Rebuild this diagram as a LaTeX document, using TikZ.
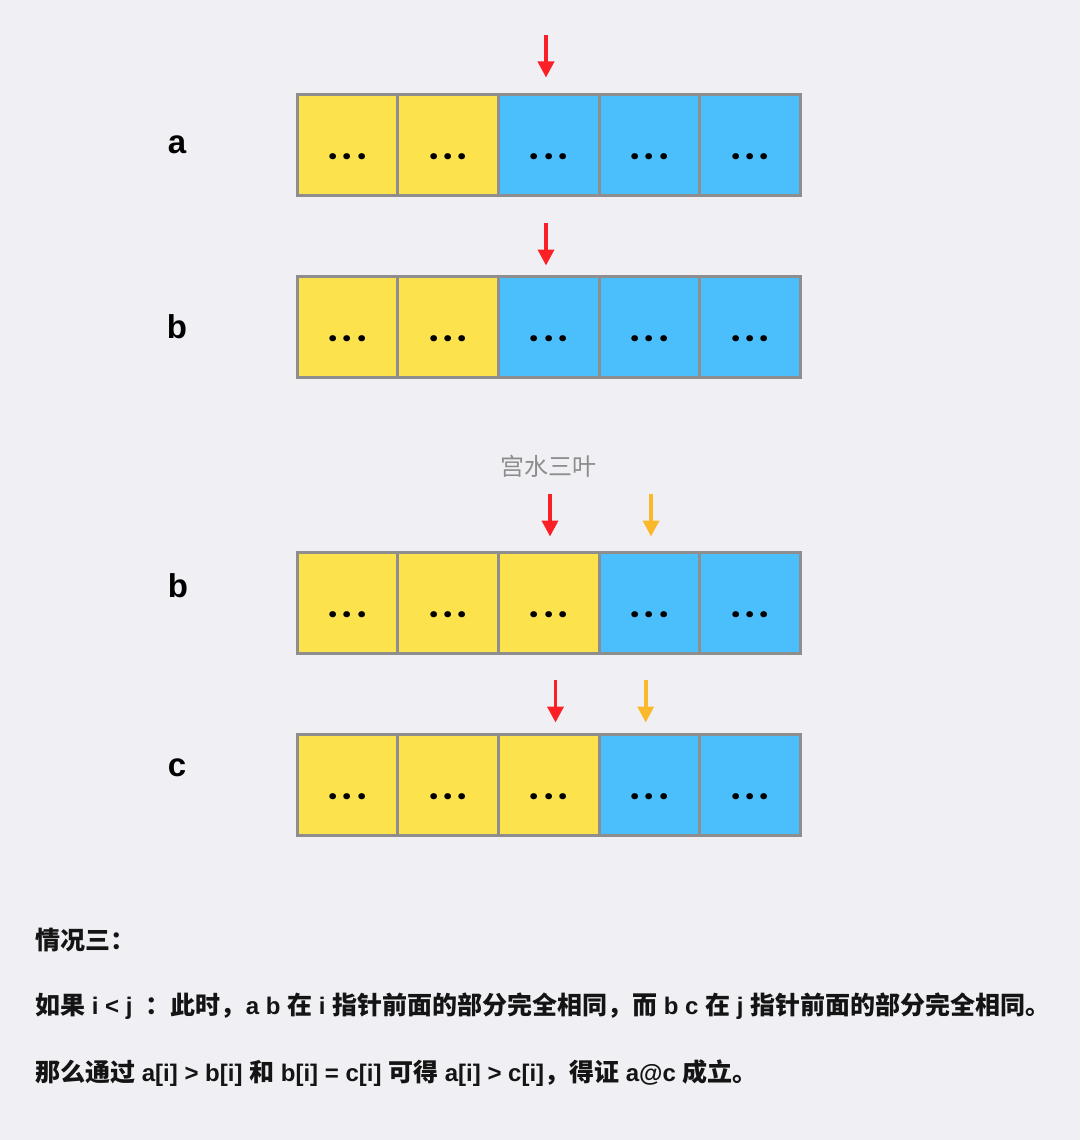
\documentclass[tikz,border=0pt]{standalone}
\usepackage{fontspec}
\setmainfont{Liberation Sans}
\newfontfamily\cjk{Noto Sans CJK SC}
\newfontfamily\latb{Liberation Sans Bold}
\newfontfamily\popf{Poppins}
\newcommand\LT[1]{{\latb\fontsize{24}{24}\selectfont #1}}
\usetikzlibrary{arrows.meta,calc}
\definecolor{bgc}{RGB}{239,239,244}
\definecolor{cellyellow}{RGB}{252,226,77}
\definecolor{cellblue}{RGB}{74,191,252}
\definecolor{cellgray}{RGB}{142,142,142}
\definecolor{ptrred}{RGB}{250,32,38}
\definecolor{ptrorange}{RGB}{251,184,42}
\definecolor{wmgray}{RGB}{140,140,140}
\definecolor{txt}{RGB}{20,20,20}
\begin{document}
\begin{tikzpicture}[x=1pt,y=-1pt,
  cell/.style={draw=cellgray, line width=3pt, minimum width=100.7pt, minimum height=100.7pt, inner sep=0pt, outer sep=0pt, anchor=north west},
  dotstext/.style={font=\popf\bfseries\fontsize{33}{33}\selectfont, inner sep=0pt, anchor=base, text=black},
  rowlabel/.style={font=\fontsize{33}{33}\selectfont\bfseries, inner sep=0pt, text=black},
  ptr/.style={line width=3.6pt, -{Triangle[width=16pt,length=16pt]}},
  note/.style={font=\cjk\bfseries\fontsize{25}{25}\selectfont, inner sep=0pt, anchor=base west, text=txt},
  wm/.style={font=\cjk\fontsize{24}{24}\selectfont, inner sep=0pt, text=wmgray}]
\fill[bgc] (0,0) rectangle (1080,1140);
\useasboundingbox (0,0) rectangle (1080,1140);

% rows of cells
\foreach \r/\t/\ny in {a/94.5/2, b/276.5/2, d/552.7/3, e/734.5/3} {
  \foreach \i in {1,...,5} {
    \pgfmathsetmacro\xx{297+100.7*(\i-1)}
    \ifnum\i>\ny \def\fc{cellblue}\else\def\fc{cellyellow}\fi
    \node[cell, fill=\fc] (\r\i) at (\xx,\t) {};
  }
}
\foreach \r in {a,b,d,e} {
  \foreach \i in {1,...,5} {
    \node[dotstext] (\r\i d) at ($(\r\i.north)+(0,64.6)$) {.\kern5pt.\kern5pt.};
  }
}

% row labels
\node[rowlabel] (la) at (177,145) {a};
\node[rowlabel] (lb) at (177,327) {b};
\node[rowlabel] (ld) at (178,586) {b};
\node[rowlabel] (le) at (177,768) {c};

% pointers
\coordinate (pa1) at (546,35);   \coordinate (pa2) at (546,77.5);
\coordinate (pb1) at (546,223);  \coordinate (pb2) at (546,265.5);
\coordinate (pd1) at (550,494);  \coordinate (pd2) at (550,536.5);
\coordinate (qd1) at (651,494);  \coordinate (qd2) at (651,536.5);
\coordinate (pe1) at (555.5,680); \coordinate (pe2) at (555.5,722.5);
\coordinate (qe1) at (645.7,680); \coordinate (qe2) at (645.7,722.5);
\draw[ptr, ptrred] (pa1) -- (pa2);
\draw[ptr, ptrred] (pb1) -- (pb2);
\draw[ptr, ptrred] (pd1) -- (pd2);
\draw[ptr, ptrorange] (qd1) -- (qd2);
\draw[ptr, ptrred] (pe1) -- (pe2);
\draw[ptr, ptrorange] (qe1) -- (qe2);

% watermark
\node[wm] (wmark) at (548,466) {宫水三叶};

% notes
\node[note] (n1) at (35,949) {情况三：};
\node[note] (n2) at (35,1014) {如果\LT{ i < j\ \ }：此时，\LT{a b }在\LT{ i }指针前面的部分完全相同，而\LT{ b c }在\LT{ j }指针前面的部分完全相同。};
\node[note] (n3) at (35,1081) {那么通过\LT{ a[i] > b[i] }和\LT{ b[i] = c[i] }可得\LT{ a[i] > c[i]}，得证\LT{ a@c }成立。};
\end{tikzpicture}
\end{document}
